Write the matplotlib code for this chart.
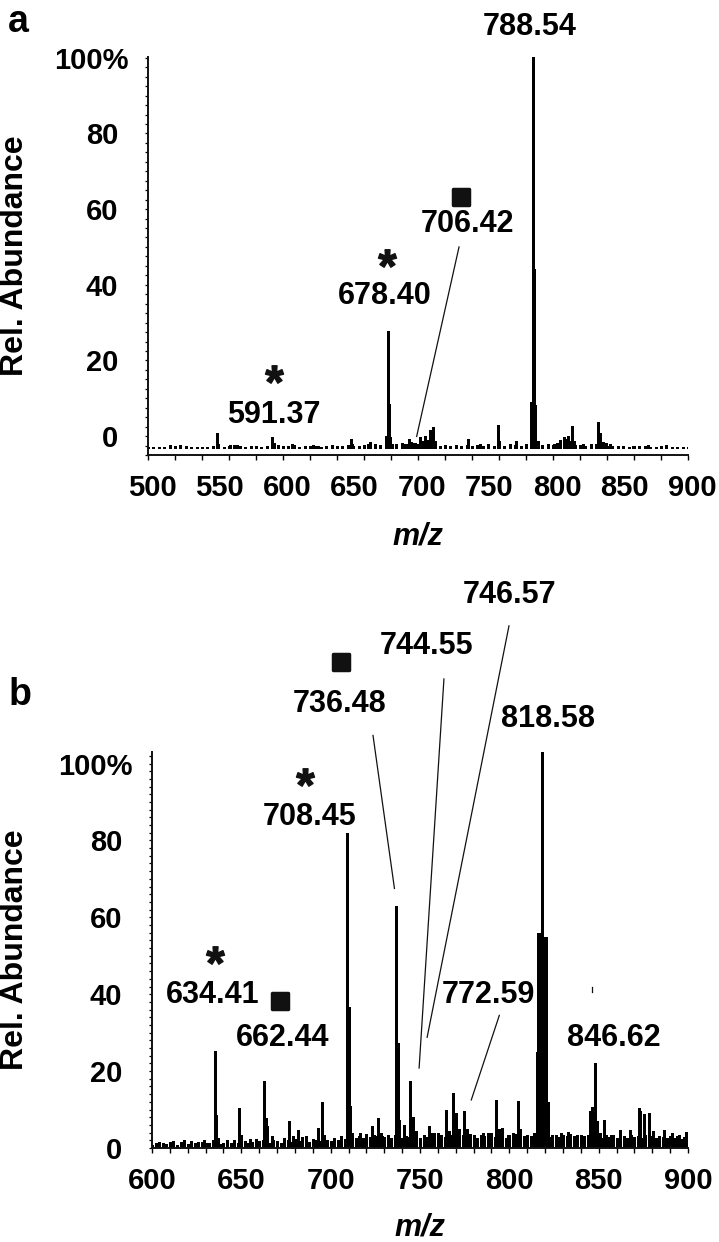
import numpy as np
import matplotlib
matplotlib.use("Agg")
import matplotlib.pyplot as plt
from matplotlib.markers import MarkerStyle
from matplotlib.path import Path
from matplotlib.textpath import TextPath
from matplotlib.font_manager import FontProperties
from matplotlib.transforms import ScaledTranslation

plt.rcParams['font.family'] = ['Liberation Sans', 'DejaVu Sans']
plt.rcParams['font.weight'] = 'bold'

# ---------------- panel a data (heights in % above the spectrum baseline)
a_grass_mz = np.arange(500, 901, 4)
a_grass_h = [0.3, 0.2, 0.4, 0.3, 0.2, 0.6, 0.8, 0.5, 0.3, 0.4, 0.2, 0.3, 0.5,
             0.6, 0.4, 0.5, 0.8, 0.6, 0.4, 0.7, 0.5, 0.3, 0.6, 0.4, 0.9, 0.7,
             0.5, 0.8, 0.4, 0.6, 0.5, 0.7, 0.4, 0.6, 0.8, 0.5, 0.6, 0.9, 0.7,
             0.6, 0.8, 1.0, 1.2, 0.9, 0.7, 0.8, 1.1, 1.4, 1.0, 1.3, 1.2,
             1.5, 1.1, 0.9, 0.7, 0.8, 0.6, 0.9, 0.7, 0.8, 0.6, 0.9, 0.7,
             0.8, 0.6, 0.9, 0.7, 1.0, 0.8, 0.6, 1.2, 1.0, 0.9, 0.8, 1.1, 0.9,
             1.3, 1.1, 1.4, 0.9, 0.8, 0.7, 1.2, 1.0, 0.8, 0.6, 0.7, 0.5, 0.6,
             0.4, 0.5, 0.3, 0.6, 0.4, 0.3, 0.5, 0.4, 0.3, 0.2, 0.3, 0.2]
a_peak_mz = [516, 524, 528, 551, 552, 561, 566, 592, 593.5, 596, 607, 622, 626,
             650, 651, 663, 664.5, 676, 677.5, 678.3, 679.2, 681, 690, 693, 695,
             698, 701.5, 703, 705, 707, 709, 711, 712.5, 737, 746, 752, 759, 760,
             772.5, 783.4, 783.9, 784.4, 785, 785.6, 786.2, 786.8, 789, 800.7,
             803, 805, 808, 809.5, 811, 812.5, 814, 815.5, 822, 833, 834, 835,
             837, 839, 842, 859, 864, 870, 883.7]
a_peak_h = [0.8, 0.7, 0.6, 3.9, 1.2, 0.8, 0.9, 2.9, 1.3, 0.8, 1.0, 0.9, 0.7,
            2.4, 1.2, 1.0, 1.7, 3.3, 30.9, 11.7, 3.0, 1.2, 1.2, 2.4, 1.6,
            1.5, 2.9, 2.0, 3.3, 2.2, 4.8, 5.6, 2.0, 2.4, 1.0, 1.2, 6.1, 1.8,
            1.8, 12.1, 12.1, 12.1, 103.4, 47.3, 12.1, 11.5, 2.0, 1.2,
            1.5, 2.2, 3.0, 2.4, 3.2, 2.0, 5.8, 1.8, 1.0, 6.9, 3.0, 3.9,
            1.6, 1.5, 1.1, 0.7, 0.6, 0.8, 0.9]
a_base = -3.2

a_labels = ['788.54', '706.42', '678.40', '591.37']
a_label_xy = [(783, 108.2), (736.3, 56.0), (675.6, 37.1), (593, 5.7)]
a_star_xy = [(677, 47.2), (593.5, 16.5)]
a_square_xy = [(731.9, 63.3)]
a_leaders = [((730.4, 50.0), (699, -0.1))]

# ---------------- panel b data
b_grass_mz = np.arange(600, 901, 2)
b_grass_h = [0.8, 1.2, 0.9, 1.4, 1.0, 1.6, 1.1, 0.9, 1.5, 1.2, 1.0, 1.8, 1.3, 1.1, 1.6, 1.4,
             1.2, 2.0, 1.5, 1.1, 1.3, 1.6, 1.2, 2.2, 1.4, 1.0, 1.7, 1.3, 1.5, 2.4, 1.8,
             2.0, 1.6, 1.4, 2.2, 1.8, 1.3, 2.6, 2.0, 1.5, 2.3, 1.7, 2.8, 1.9, 1.6, 2.4, 2.1, 1.8, 2.9, 2.2, 1.9,
             2.6, 2.2, 3.0, 2.4, 2.8, 3.4, 2.5, 3.1, 2.7, 3.6, 2.9, 2.4, 3.2, 3.8, 2.8, 3.3, 2.6, 3.5, 3.0, 2.7,
             3.2, 2.8, 3.6, 3.1, 2.6, 3.4, 2.9, 3.8, 3.2, 4.0, 3.5, 2.9, 3.7, 3.3, 3.9, 3.0, 3.4, 2.8, 3.6, 3.1,
             2.7, 3.5, 3.0, 3.8, 3.2, 2.9, 3.4, 3.1, 2.7, 3.3,
             3.0, 3.6, 2.8, 3.2, 3.5, 3.0, 3.8, 3.4, 2.6, 3.1, 2.9, 3.5, 3.2, 2.8, 3.4, 3.0, 3.6, 3.1, 2.7, 3.3,
             3.0, 3.4, 2.8, 3.6, 3.1, 2.6, 3.3, 2.9, 3.5, 2.7, 3.2, 3.0, 2.6, 3.4, 2.9, 3.1, 2.5, 3.3, 2.8, 3.0,
             2.6, 3.2, 2.9, 2.5, 3.1, 2.7, 3.0, 2.4, 2.8, 2.6]
b_peak_mz = [604, 612, 618, 626, 629, 635.1, 635.8, 637, 642, 648.6, 649.6, 655,
             662.9, 663.8, 664.6, 667, 676.7, 679, 681.6, 686, 692.8, 694.9, 696,
             709.1, 710, 710.8, 712, 716.3, 720, 722.9, 724.5, 726.5, 729,
             736.7, 737.6, 738.5, 741.2, 744.5, 745.9, 748, 752, 755.1, 758, 761,
             764.3, 766, 768.4, 770.4, 772, 774.5, 776.5, 780, 785, 790, 792.5,
             794, 796, 799, 802, 804.7, 806, 810, 815.5, 816.2, 816.8, 817.4, 818,
             818.5, 819.1, 819.6, 820.2, 820.8, 821.4, 826, 829, 833, 838, 844.9,
             846.2, 847.8, 848.8, 850.5, 853, 857, 862, 867.4, 872.4, 873.4, 875.4,
             877.9, 880.6, 886.8, 891, 894.8, 899]
b_peak_h = [1.5, 1.8, 2.0, 1.6, 2.2, 25.2, 8.7, 2.5, 2.0, 10.5, 3.5, 2.4,
            17.4, 7.8, 5.6, 3.0, 6.9, 3.0, 4.8, 3.0, 5.2, 11.9, 3.5,
            82, 36.8, 10.8, 4.0, 3.9, 3.5, 5.8, 3.5, 7.8, 3.0,
            63, 27.3, 7.4, 6.0, 17.4, 8.0, 4.5, 3.5, 5.6, 4.0, 3.5,
            9.9, 4.5, 14.4, 9.1, 5.0, 9.6, 5.0, 3.5, 4.0, 4.0, 12.6,
            5.0, 5.3, 3.5, 4.0, 12.1, 5.0, 3.5, 25, 56, 25, 56, 25,
            103, 25, 55, 25, 55, 12, 3.5, 4.0, 4.2, 3.5, 9.6,
            10.6, 22.2, 7.0, 4.0, 7.2, 3.5, 4.8, 4.8, 10.3, 9.7, 8.9,
            9.0, 4.5, 4.8, 3.8, 3.5, 4.2]
b_base = 0.0

b_labels = ['818.58', '746.57', '744.55', '736.48', '708.45', '634.41', '662.44',
            '772.59', '846.62']
b_label_xy = [(821.6, 111.7), (800.3, 143.9), (753.9, 130.6), (705.2, 115.6),
              (688.4, 86.2), (633.7, 39.7), (673, 28.6), (788.4, 39.7), (858.2, 28.6)]
b_star_xy = [(685.6, 96.6), (635.4, 50.1)]
b_square_xy = [(705.8, 126.5), (671.5, 38.2)]
b_leaders = [((723.7, 107.3), (735.7, 67.5)),
             ((763.4, 122.0), (749.5, 20.8)),
             ((799.8, 135.8), (754.0, 28.8)),
             ((794.4, 34.5), (778.7, 12.5)),
             ((846.2, 40.5), (846.2, 41.8))]

# ---------------- markers
tp = TextPath((0, 0), '*', prop=FontProperties(family='Liberation Sans', weight='bold'))
v = tp.vertices.copy()
keep = tp.codes != Path.CLOSEPOLY
c = (v[keep].min(0) + v[keep].max(0)) / 2
v[~keep] = c
star = Path(v - c, tp.codes)
square = MarkerStyle('s', joinstyle='round')

fig = plt.figure(figsize=(7.19, 12.42), dpi=100)
ax_a = fig.add_axes([148 / 719, 1 - 455 / 1242, 540 / 719, 398 / 1242])
ax_b = fig.add_axes([152 / 719, 1 - 1148 / 1242, 536 / 719, 396 / 1242])


def draw_panel(ax, grass_mz, grass_h, peak_mz, peak_h, base, xlim, ytop, minor_x, minor_y,
               labels, label_xy, star_xy, square_xy, leaders):
    mz = np.concatenate([grass_mz, peak_mz])
    h = np.concatenate([grass_h, peak_h])
    ax.vlines(mz, base, base + h, color='black', lw=0.75, antialiased=False)
    ax.set_xlim(*xlim)
    ax.set_ylim(base, ytop)
    for s in ['top', 'right']:
        ax.spines[s].set_visible(False)
    for s in ['left', 'bottom']:
        ax.spines[s].set_linewidth(1.4)
        ax.spines[s].set_color('#111111')

    ax.set_xticks(np.arange(xlim[0], xlim[1] + 1, 50))
    ax.set_xticks(np.arange(xlim[0], xlim[1] + 1, minor_x), minor=True)
    ax.set_yticks(np.arange(0, 101, 20))
    ax.set_yticks(np.arange(base - base % minor_y, ytop, minor_y), minor=True)
    ax.xaxis.remove_overlapping_locs = False
    ax.set_yticklabels(['0', '20', '40', '60', '80', '100%'])
    ax.tick_params(axis='x', which='major', length=0, pad=14, labelsize=21)
    ax.tick_params(axis='x', which='minor', length=3.5, width=1.0, direction='out')
    ax.tick_params(axis='y', which='both', length=2.5, width=0.9, direction='out')
    ax.tick_params(axis='y', which='major', pad=19, labelsize=21)
    for t in ax.get_xticklabels() + ax.get_yticklabels():
        t.set_fontweight('bold')

    for txt, (x, y) in zip(labels, label_xy):
        ax.text(x, y, txt, ha='center', va='center', fontsize=22, fontweight='bold',
                clip_on=False)
    for x, y in star_xy:
        ax.plot(x, y, marker=star, ms=13, color='#111111', ls='none', clip_on=False)
    for x, y in square_xy:
        ax.plot(x, y, marker=square, ms=11, mew=2.5, color='#111111', ls='none',
                clip_on=False)
    for (x0, y0), (x1, y1) in leaders:
        ax.plot([x0, x1], [y0, y1], color='#111111', lw=0.9, clip_on=False)


draw_panel(ax_a, a_grass_mz, a_grass_h, a_peak_mz, a_peak_h, a_base, (500, 900), 100.2,
           20, 2.5, a_labels, a_label_xy, a_star_xy, a_square_xy, a_leaders)
draw_panel(ax_b, b_grass_mz, b_grass_h, b_peak_mz, b_peak_h, b_base, (600, 900), 103,
           10, 2.0, b_labels, b_label_xy, b_star_xy, b_square_xy, b_leaders)

# small layout quirks of the original figure
shift_x = ScaledTranslation(4 / 100, 0, fig.dpi_scale_trans)
for t in ax_a.get_xticklabels():
    t.set_transform(t.get_transform() + shift_x)
shift_pct = ScaledTranslation(10 / 100, 0, fig.dpi_scale_trans)
for ax in (ax_a, ax_b):
    t = ax.get_yticklabels()[-1]
    t.set_transform(t.get_transform() + shift_pct)

fig.text(18 / 719, 1 - 4 / 1242, 'a', fontsize=27, fontweight='bold', ha='center', va='top')
fig.text(20 / 719, 1 - 695 / 1242, 'b', fontsize=27, fontweight='bold', ha='center', va='center')
fig.text(15 / 719, 1 - 256 / 1242, 'Rel. Abundance', rotation=90, fontsize=23,
         fontweight='bold', ha='center', va='center')
fig.text(15 / 719, 1 - 950 / 1242, 'Rel. Abundance', rotation=90, fontsize=23,
         fontweight='bold', ha='center', va='center')
fig.text(418 / 719, 1 - 537 / 1242, 'm/z', fontsize=22, fontweight='bold', style='italic',
         ha='center', va='center')
fig.text(420 / 719, 1 - 1227 / 1242, 'm/z', fontsize=22, fontweight='bold', style='italic',
         ha='center', va='center')

fig.savefig('out.png', dpi=100, facecolor='white')
